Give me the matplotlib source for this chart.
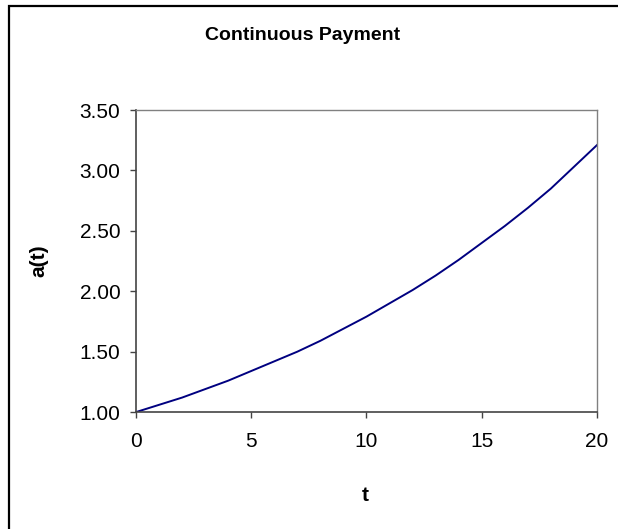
import matplotlib.pyplot as plt
from matplotlib.patches import Rectangle

plt.rcParams['font.family'] = ['Liberation Sans', 'DejaVu Sans']

# values
t_vals = list(range(0, 21))
a_vals = [1.00, 1.06, 1.12, 1.19, 1.26, 1.34, 1.42, 1.50, 1.59, 1.69, 1.79,
          1.90, 2.01, 2.13, 2.26, 2.40, 2.54, 2.69, 2.85, 3.03, 3.21]
x_ticks = [0, 5, 10, 15, 20]
y_ticks = [1.00, 1.50, 2.00, 2.50, 3.00, 3.50]

fig = plt.figure(figsize=(6.18, 5.29), dpi=100)
ax = fig.add_axes([0.220, 0.221, 0.746, 0.571])

ax.plot(t_vals, a_vals, color='#000080', linewidth=1.4)

ax.set_xlim(0, 20)
ax.set_ylim(1.0, 3.5)
ax.set_xticks(x_ticks)
ax.set_yticks(y_ticks)
ax.set_yticklabels([f'{v:.2f}' for v in y_ticks])
ax.tick_params(labelsize=15, length=4.3, width=1, color='#444444')
ax.tick_params(axis='y', pad=7)
ax.tick_params(axis='x', pad=10)

for side in ['left', 'bottom']:
    ax.spines[side].set_color('#444444')
    ax.spines[side].set_linewidth(1.2)
for side in ['top', 'right']:
    ax.spines[side].set_color('#808080')
    ax.spines[side].set_linewidth(1.0)

ax.set_xlabel('t', fontsize=15, fontweight='bold')
ax.set_ylabel('a(t)', fontsize=15, fontweight='bold')
ax.xaxis.set_label_coords(0.497, -0.245)
ax.yaxis.set_label_coords(-0.190, 0.5)
fig.text(0.4895, 0.932, 'Continuous Payment', ha='center', va='center',
         fontsize=14, fontweight='bold')

# outer chart border (right and bottom edges fall outside the image)
fig.patches.append(Rectangle((0.0146, -0.02), 1.02, 1.0087, transform=fig.transFigure,
                             fill=False, edgecolor='black', linewidth=1.6))

fig.savefig('out.png', dpi=100)
